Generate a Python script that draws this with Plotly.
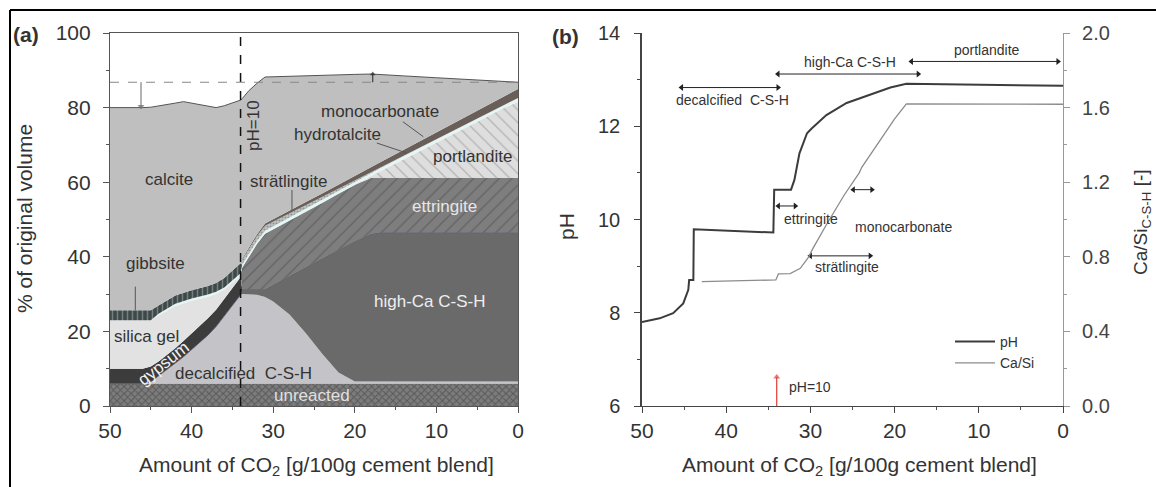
import plotly.graph_objects as go

# ---------------- Panel (a): phase volumes (% of original volume) ----------------
co2_a = [50, 46, 45, 44, 42, 41, 40, 38, 37, 36, 34, 33.8, 33, 32, 31, 30, 28, 26, 24, 22, 20, 18, 17, 14, 10, 6, 2, 0]
unreacted = [6, 6, 6, 6, 6, 6, 6, 6, 6, 6, 6, 6, 6, 6, 6, 6, 6, 6, 6, 6, 6, 6, 6, 6, 6, 6, 6, 6]
decalcified_csh = [0, 0, 0.5, 2, 5.5, 7.2, 9, 13, 15.3, 18, 23.8, 24, 24, 23.8, 23.2, 22, 18.5, 13.5, 8, 3, 0.6, 0.6, 0.6, 0.6, 0.6, 0.6, 0.6, 0.6]
high_ca_csh = [0, 0, 0, 0, 0, 0, 0, 0, 0, 0, 0, 1.3, 1.3, 1.5, 2.1, 4.5, 10.3, 17.7, 25.5, 32.9, 37.6, 39.5, 39.9, 39.9, 39.9, 39.9, 39.9, 39.9]
gypsum = [4, 4, 4.1, 4, 4, 4.2, 4.3, 4.5, 4.5, 4.5, 4.7, 0, 0, 0, 0, 0, 0, 0, 0, 0, 0, 0, 0, 0, 0, 0, 0, 0]
silica_gel = [13, 13, 12.4, 12.3, 11.3, 10.2, 8.9, 5.8, 4.2, 2.7, 0.5, 0, 0, 0, 0, 0, 0, 0, 0, 0, 0, 0, 0, 0, 0, 0, 0, 0]
ettringite = [0, 0, 0, 0, 0, 0, 0, 0, 0, 0, 0, 5.8, 8.7, 12.1, 14.9, 14.9, 14.9, 14.8, 14.9, 15.0, 15.1, 15.0, 14.6, 14.6, 14.6, 14.6, 14.6, 14.6]
portlandite = [0, 0, 0, 0, 0, 0, 0, 0, 0, 0, 0, 0, 0, 0, 0, 0, 0, 0, 0, 0, 0, 0.5, 1.7, 5.1, 9.6, 14.0, 18.5, 20.5]
hydrotalcite = [0, 0, 0, 0.5, 0.6, 0.6, 0.6, 0.6, 0.6, 0.6, 0.6, 0.8, 0.8, 0.8, 0.8, 0.8, 0.8, 0.8, 0.8, 0.8, 0.8, 0.8, 0.8, 0.8, 0.8, 0.8, 0.8, 1.0]
gibbsite = [2.7, 2.7, 2.7, 2.2, 2.2, 2.1, 2.2, 2.3, 2.4, 2.5, 2.7, 0, 0, 0, 0, 0, 0, 0, 0, 0, 0, 0, 0, 0, 0, 0, 0, 0]
stratlingite = [0, 0, 0, 0, 0, 0, 0, 0, 0, 0, 0, 1.3, 1.3, 1.3, 1.3, 1.2, 1.1, 1.0, 0.8, 0.6, 0.4, 0.2, 0.1, 0, 0, 0, 0, 0]
monocarbonate = [0, 0, 0, 0, 0, 0, 0, 0, 0, 0, 0, 0.3, 0.4, 0.5, 0.6, 0.7, 0.8, 0.9, 1.0, 1.1, 1.2, 1.4, 1.5, 1.7, 1.9, 2.1, 2.3, 2.4]
calcite = [54.3, 54.3, 54.4, 53.4, 51.6, 51.3, 50.3, 48.2, 47, 46.2, 43.7, 42.9, 42, 40.5, 39.3, 38.2, 36, 33.8, 31.6, 29.4, 27.2, 25, 23.7, 19.8, 14.6, 9.5, 4.3, 1.8]

initial_volume = 86.8      # dashed reference line
ph10_co2 = 34.0            # CO2 amount at which pH = 10
shrink_co2, shrink_to = 46.2, 80.3   # volume decrease arrow
swell_co2, swell_to = 17.8, 89.0     # volume increase arrow

# ---------------- Panel (b): pH and Ca/Si ----------------
ph_co2 = [50, 47.9, 46.3, 45.1, 44.5, 44.4, 43.9, 43.85, 34.4, 34.3, 32.3, 31.9, 31.3, 30.4, 29.85, 28.1, 25.7, 22.5, 20.5, 18.6, 10, 0]
ph_val = [7.8, 7.88, 7.99, 8.2, 8.49, 8.7, 8.7, 9.79, 9.72, 10.64, 10.64, 10.85, 11.42, 11.85, 11.95, 12.24, 12.5, 12.71, 12.83, 12.91, 12.89, 12.87]
casi_co2 = [42.9, 34.1, 33.8, 32.4, 31.2, 30.2, 29.7, 28, 26, 24.2, 23.9, 22, 20, 18.6, 10, 0]
casi_val = [0.667, 0.676, 0.708, 0.71, 0.738, 0.80, 0.845, 0.98, 1.13, 1.25, 1.28, 1.41, 1.54, 1.62, 1.62, 1.618]

zone_names = ["decalcified  C-S-H", "high-Ca C-S-H", "portlandite", "ettringite", "strätlingite", "monocarbonate"]
zone_start = [45.3, 33.85, 18.0, 33.8, 30.0, 24.9]
zone_end = [33.85, 17.2, 0.6, 31.8, 22.9, 22.7]
zone_ph = [12.83, 13.12, 13.39, 10.29, 9.22, 10.64]

FONT = "Liberation Sans, Arial, sans-serif"
TXT = "#333333"

fig = go.Figure()

phases = [
    ("unreacted", unreacted, dict(fillcolor="#7a7a7a", fillpattern=dict(shape="x", bgcolor="#7c7c7c", fgcolor="#343434", size=5, solidity=0.35))),
    ("decalcified C-S-H", decalcified_csh, dict(fillcolor="#c4c4c8")),
    ("high-Ca C-S-H", high_ca_csh, dict(fillcolor="#6a6a6a")),
    ("gypsum", gypsum, dict(fillcolor="#3c3c3c")),
    ("silica gel", silica_gel, dict(fillcolor="#e2e2e2")),
    ("ettringite", ettringite, dict(fillcolor="#7c7c7c", fillpattern=dict(shape="/", bgcolor="#7e7e7e", fgcolor="#4a4a4a", size=9, solidity=0.15))),
    ("portlandite", portlandite, dict(fillcolor="#dcdcdc", fillpattern=dict(shape="\\", bgcolor="#dedede", fgcolor="#8a8a8a", size=9, solidity=0.15))),
    ("hydrotalcite", hydrotalcite, dict(fillcolor="#e4f5f4")),
    ("gibbsite", gibbsite, dict(fillcolor="#404a4a", fillpattern=dict(shape="|", bgcolor="#3e4848", fgcolor="#aab4b4", size=5, solidity=0.3))),
    ("strätlingite", stratlingite, dict(fillcolor="#b8c0c0", fillpattern=dict(shape=".", bgcolor="#c0c6c6", fgcolor="#5a6262", size=3, solidity=0.4))),
    ("monocarbonate", monocarbonate, dict(fillcolor="#6a5f58")),
    ("calcite", calcite, dict(fillcolor="#bfbfbf")),
]
for name, vals, sty in phases:
    lw = 0
    lc = "rgba(0,0,0,0)"
    if name == "high-Ca C-S-H":
        lw, lc = 0.8, "#50506a"
    if name == "calcite":
        lw, lc = 1, "#555555"
    fig.add_trace(go.Scatter(x=co2_a, y=vals, name=name, stackgroup="a", mode="lines",
                             line=dict(width=lw, color=lc), showlegend=False,
                             xaxis="x", yaxis="y", hoverinfo="skip", **sty))

# Panel (b) curves
fig.add_trace(go.Scatter(x=ph_co2, y=ph_val, name="pH", mode="lines",
                         line=dict(color="#3c3c3c", width=2), xaxis="x2", yaxis="y2"))
fig.add_trace(go.Scatter(x=casi_co2, y=casi_val, name="Ca/Si", mode="lines",
                         line=dict(color="#8c8c8c", width=1.3), xaxis="x2", yaxis="y3"))

# arrows drawn as line+triangle-marker traces
def arrow(xs, ys, symbols, color, xa, ya, width=1, size=6):
    fig.add_trace(go.Scatter(x=xs, y=ys, mode="lines+markers", showlegend=False, hoverinfo="skip",
                             line=dict(color=color, width=width),
                             marker=dict(symbol=symbols, size=size, color=color, line=dict(width=0)),
                             xaxis=xa, yaxis=ya))

arrow([shrink_co2, shrink_co2], [initial_volume, shrink_to], ["line-ew", "triangle-down"], "#666666", "x", "y", size=[0.1, 6])
arrow([swell_co2, swell_co2], [initial_volume, swell_to], ["line-ew", "triangle-up"], "#222222", "x", "y", size=[0.1, 5])
for a, b, p in zip(zone_start, zone_end, zone_ph):
    arrow([a, b], [p, p], ["triangle-left", "triangle-right"], "#222222", "x2", "y2", size=6)
arrow([ph10_co2, ph10_co2], [6.0, 6.62], ["line-ew", "triangle-up"], "#e53935", "x2", "y2", width=1.2, size=[0.1, 6])

W, H = 1156, 487
def px(xp):
    return xp / W
def py(yp):
    return (H - yp) / H

tickfont = dict(family=FONT, size=21, color=TXT)
common_x = dict(range=[50, 0], dtick=10, ticks="outside", ticklen=6, tickwidth=1, automargin=False,
                showline=True, linewidth=1.2, showgrid=False, zeroline=False,
                tickfont=tickfont, minor=dict(dtick=5, ticks="outside", ticklen=3, tickcolor="#555"),
                ticklabelstandoff=0)

fig.update_layout(
    width=W, height=H, margin=dict(l=0, r=0, t=0, b=0, autoexpand=False),
    paper_bgcolor="white", plot_bgcolor="white",
    font=dict(family=FONT, color=TXT),
    xaxis=dict(domain=[px(110), px(518)], anchor="y", mirror=True, linecolor="#555555", tickcolor="#555555", **common_x),
    yaxis=dict(domain=[py(406), py(33)], anchor="x", range=[0, 100], dtick=20, ticks="outside", ticklen=6,
               showline=True, mirror=True, linecolor="#555555", tickcolor="#555555", linewidth=1.2,
               showgrid=False, zeroline=False, tickfont=tickfont, ticklabelstandoff=8, automargin=False,
               minor=dict(dtick=10, ticks="outside", ticklen=3, tickcolor="#555")),
    xaxis2=dict(domain=[px(642), px(1063)], anchor="y2", linecolor="#444444", tickcolor="#444444", **common_x),
    yaxis2=dict(domain=[py(406), py(33)], anchor="x2", range=[6, 14], dtick=2, ticks="outside", ticklen=6,
                showline=True, linecolor="#444444", tickcolor="#444444", linewidth=1.5, automargin=False,
                showgrid=False, zeroline=False, tickfont=dict(family=FONT, size=20, color=TXT),
                ticklabelstandoff=10, minor=dict(dtick=1, ticks="outside", ticklen=3, tickcolor="#444")),
    yaxis3=dict(domain=[py(406), py(33)], anchor="x2", overlaying="y2", side="right", range=[0, 2.0],
                dtick=0.4, tickformat=".1f", ticks="outside", ticklen=6, showline=True, automargin=False,
                linecolor="#999999", tickcolor="#999999", linewidth=1.2, showgrid=False, zeroline=False,
                tickfont=dict(family=FONT, size=20, color="#444"), ticklabelstandoff=8,
                minor=dict(dtick=0.2, ticks="outside", ticklen=3, tickcolor="#999")),
    legend=dict(x=px(950), y=py(326), xanchor="left", yanchor="top", bgcolor="rgba(0,0,0,0)",
                traceorder="normal",
                font=dict(family=FONT, size=14, color=TXT), itemwidth=40, tracegroupgap=4),
)

shapes = []
# outer frame
shapes.append(dict(type="line", xref="paper", yref="paper", x0=px(10), x1=1, y0=py(10), y1=py(10), line=dict(color="black", width=2)))
shapes.append(dict(type="line", xref="paper", yref="paper", x0=px(10), x1=px(10), y0=py(10), y1=0, line=dict(color="black", width=2)))
# pH = 10 dashed line and initial volume dashed line (panel a)
shapes.append(dict(type="line", xref="x", yref="y", x0=ph10_co2, x1=ph10_co2, y0=0, y1=100, line=dict(color="#111111", width=1.5, dash="dash")))
shapes.append(dict(type="line", xref="x", yref="y", x0=50, x1=0, y0=initial_volume, y1=initial_volume, line=dict(color="#888888", width=1.2, dash="dash")))
# leader lines
leaders = [((46.9, 32.0), (46.9, 25.7)), ((27.7, 57.9), (27.7, 52.5)),
           ((14.1, 76.2), (11.6, 72.2)), ((17.3, 70.5), (13.6, 67.8))]
for (xa, ya), (xb, yb) in leaders:
    shapes.append(dict(type="line", xref="x", yref="y", x0=xa, y0=ya, x1=xb, y1=yb, line=dict(color="#555555", width=1)))
fig.update_layout(shapes=shapes)

ann = []
def txt(x, y, s, size=17, color=TXT, angle=0, xref="x", yref="y", xanchor="center", bold=False):
    ann.append(dict(x=x, y=y, xref=xref, yref=yref, text=("<b>%s</b>" % s) if bold else s, showarrow=False,
                    font=dict(family=FONT, size=size, color=color), textangle=angle,
                    xanchor=xanchor, yanchor="middle"))

# panel a labels
txt(42.8, 60.6, "calcite")
txt(32.5, 75.3, "pH=10", angle=-90)
txt(16.9, 78.9, "monocarbonate")
txt(22.1, 72.7, "hydrotalcite")
txt(5.6, 66.8, "portlandite")
txt(28.1, 60.1, "strätlingite")
txt(8.95, 53.4, "ettringite", color="#e6e6e6")
txt(44.4, 38.3, "gibbsite")
txt(45.5, 18.6, "silica gel")
txt(43.4, 11.3, "gypsum", color="#f2f2f2", angle=-38)
txt(33.6, 8.8, "decalcified  C-S-H")
txt(10.8, 28.0, "high-Ca C-S-H", color="#eeeeee")
txt(25.2, 2.9, "unreacted", color="#e0e0e0")

# panel b labels
txt(39.3, 12.57, "decalcified  C-S-H", size=14, xref="x2", yref="y2")
txt(25.3, 13.38, "high-Ca C-S-H", size=14, xref="x2", yref="y2")
txt(9.06, 13.64, "portlandite", size=14, xref="x2", yref="y2")
txt(33.4, 10.01, "ettringite", size=14, xref="x2", yref="y2", xanchor="left")
txt(25.7, 8.99, "strätlingite", size=14, xref="x2", yref="y2")
txt(24.9, 9.84, "monocarbonate", size=14, xref="x2", yref="y2", xanchor="left")
txt(32.8, 6.41, "pH=10", size=14, xref="x2", yref="y2", xanchor="left")

# panel labels and axis titles
txt(px(26), py(34), "(a)", size=21, xref="paper", yref="paper", bold=True)
txt(px(565), py(37), "(b)", size=21, xref="paper", yref="paper", bold=True)
txt(px(25), py(219), "% of original volume", size=21, angle=-90, xref="paper", yref="paper")
txt(px(316), py(466), "Amount of CO<sub>2</sub> [g/100g cement blend]", size=21, xref="paper", yref="paper")
txt(px(859), py(466), "Amount of CO<sub>2</sub> [g/100g cement blend]", size=21, xref="paper", yref="paper")
txt(px(567), py(227), "pH", size=21, angle=-90, xref="paper", yref="paper")
txt(px(1142), py(222), "Ca/Si<sub>C-S-H</sub> [-]", size=19, angle=-90, xref="paper", yref="paper")
fig.update_layout(annotations=ann)

fig.write_html("out.html")
